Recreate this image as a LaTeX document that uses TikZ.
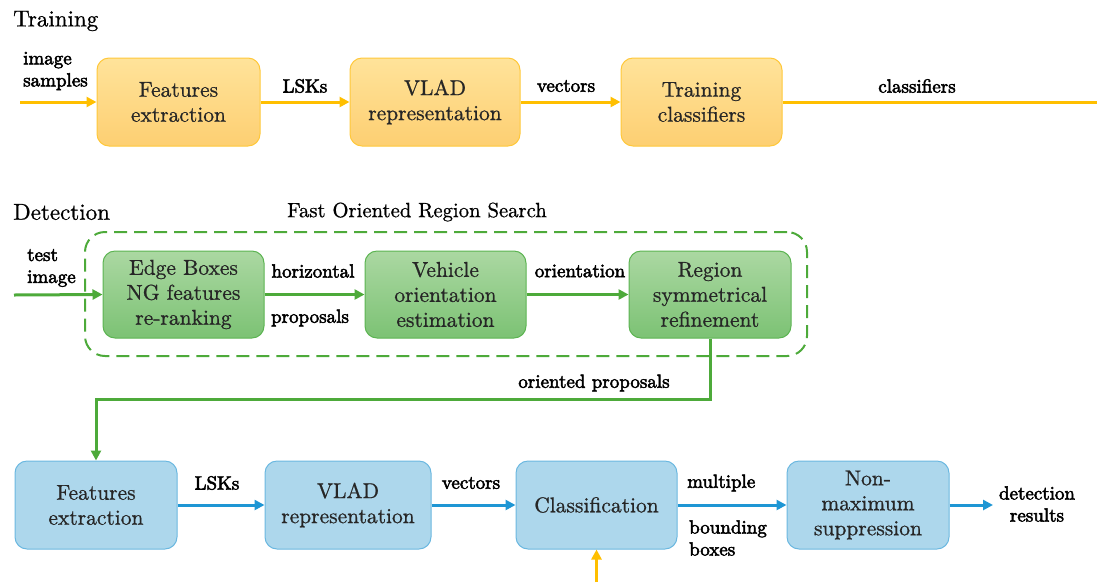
\documentclass[tikz,border=0pt]{standalone}
\usepackage{fontspec}
\setmainfont{lmroman10-regular.otf}[FakeBold=0.8]
\newfontfamily\labfont{lmroman10-regular.otf}[FakeBold=2.8]
\usetikzlibrary{arrows.meta}
\definecolor{OrT}{HTML}{FFE39A}
\definecolor{OrB}{HTML}{FDCF72}
\definecolor{OrD}{HTML}{FFC83A}
\definecolor{OrA}{HTML}{FFBF00}
\definecolor{GrT}{HTML}{ABD8A2}
\definecolor{GrB}{HTML}{7CC274}
\definecolor{GrD}{HTML}{5CB452}
\definecolor{GrA}{HTML}{4DAA3A}
\definecolor{BlF}{HTML}{ADD7EC}
\definecolor{BlD}{HTML}{6BB8E0}
\definecolor{BlA}{HTML}{1E96D4}
\begin{document}
\begin{tikzpicture}[x=1pt,y=-1pt,
  box/.style={rounded corners=12pt, minimum height=88pt, align=center, line width=1pt,
    inner sep=0pt, font=\fontsize{21.5}{25}\selectfont, text=black!85},
  obox/.style={box, draw=OrD, top color=OrT, bottom color=OrB},
  gbox/.style={box, draw=GrD, top color=GrT, bottom color=GrB},
  bbox/.style={box, draw=BlD, fill=BlF},
  tip/.style={-{Triangle[length=10pt,width=10pt]}},
  oarr/.style={draw=OrA, line width=3pt, tip},
  garr/.style={draw=GrA, line width=3pt, tip},
  barr/.style={draw=BlA, line width=3pt, tip},
  lab/.style={font=\labfont\fontsize{19}{22}\selectfont, inner sep=0pt},
  ttl/.style={font=\fontsize{23}{27}\selectfont, inner sep=0pt},
  frame/.style={draw=GrA, line width=2pt, dash pattern=on 13pt off 7pt, rounded corners=20pt}
]
\useasboundingbox (0,0) rectangle (1097,582);

% ---------- Training ----------
\node[ttl, anchor=west] (ttrain) at (13,21) {Training};
\node[obox, minimum width=163pt] (fe1) at (178.5,102) {Features\\extraction};
\node[obox, minimum width=170pt] (vlad1) at (435,102) {VLAD\\representation};
\node[obox, minimum width=161pt] (tc1) at (701.5,102) {Training\\classifiers};
\coordinate (in1) at (20,102);
\coordinate (out1) at (1097,102);
\node[lab, align=left, anchor=west] (limg) at (23,71) {image\\samples};
\draw[oarr] (in1) -- (fe1.west);
\draw[oarr] (fe1) -- (vlad1);
\node[lab] (llsk1) at (305,86) {LSKs};
\draw[oarr] (vlad1) -- (tc1);
\node[lab] (lvec1) at (566,86) {vectors};
\draw[draw=OrA, line width=3pt] (tc1.east) -- (out1);
\node[lab] (lcls) at (917,86) {classifiers};

% ---------- Detection ----------
\node[ttl, anchor=west] (tdet) at (13,212) {Detection};
\node[ttl, font=\fontsize{20.7}{25}\selectfont] (tfors) at (417,212) {Fast Oriented Region Search};
\node[frame, minimum width=722pt, minimum height=124pt] (fors) at (446,294) {};
\node[gbox, minimum width=161pt, minimum height=87pt] (eb) at (183.5,294.5) {Edge Boxes\\NG features\\re-ranking};
\node[gbox, minimum width=161pt, minimum height=87pt] (vo) at (445.5,294.5) {Vehicle\\orientation\\estimation};
\node[gbox, minimum width=162pt, minimum height=87pt] (rs) at (710,294.5) {Region\\symmetrical\\refinement};
\coordinate (in2) at (14,295);
\node[lab, align=left, anchor=west] (ltest) at (27,268) {test\\image};
\draw[garr] (in2) -- (eb.west);
\draw[garr] (eb) -- (vo);
\node[lab] (lhor) at (313,271) {horizontal};
\node[lab] (lprop) at (310,318) {proposals};
\draw[garr] (vo) -- (rs);
\node[lab] (lori) at (580,271) {orientation};

% ---------- bottom row ----------
\node[bbox, minimum width=162pt] (fe2) at (96,505) {Features\\extraction};
\node[bbox, minimum width=166pt] (vlad2) at (348,505) {VLAD\\representation};
\node[bbox, minimum width=161pt] (cls) at (596.5,505) {Classification};
\node[bbox, minimum width=162pt] (nms) at (868,505) {Non-\\maximum\\suppression};
\coordinate (bend) at (0,399);
\draw[garr] (rs.south) -- (rs.south |- bend) -| (fe2.north);
\node[lab] (lorp) at (594,383) {oriented proposals};
\draw[barr] (fe2) -- (vlad2);
\node[lab] (llsk2) at (217,483) {LSKs};
\draw[barr] (vlad2) -- (cls);
\node[lab] (lvec2) at (471,483) {vectors};
\draw[barr] (cls) -- (nms);
\node[lab, anchor=west] (lmul) at (687,483) {multiple};
\node[lab, align=left, anchor=west] (lbb) at (689,538) {bounding\\boxes};
\coordinate (out2) at (993,505);
\draw[barr] (nms.east) -- (out2);
\node[lab, align=center] (ldet) at (1037,504) {detection\\results};
\coordinate (clsin) at (0,582);
\draw[oarr] (cls.south |- clsin) -- (cls.south);
\end{tikzpicture}
\end{document}
